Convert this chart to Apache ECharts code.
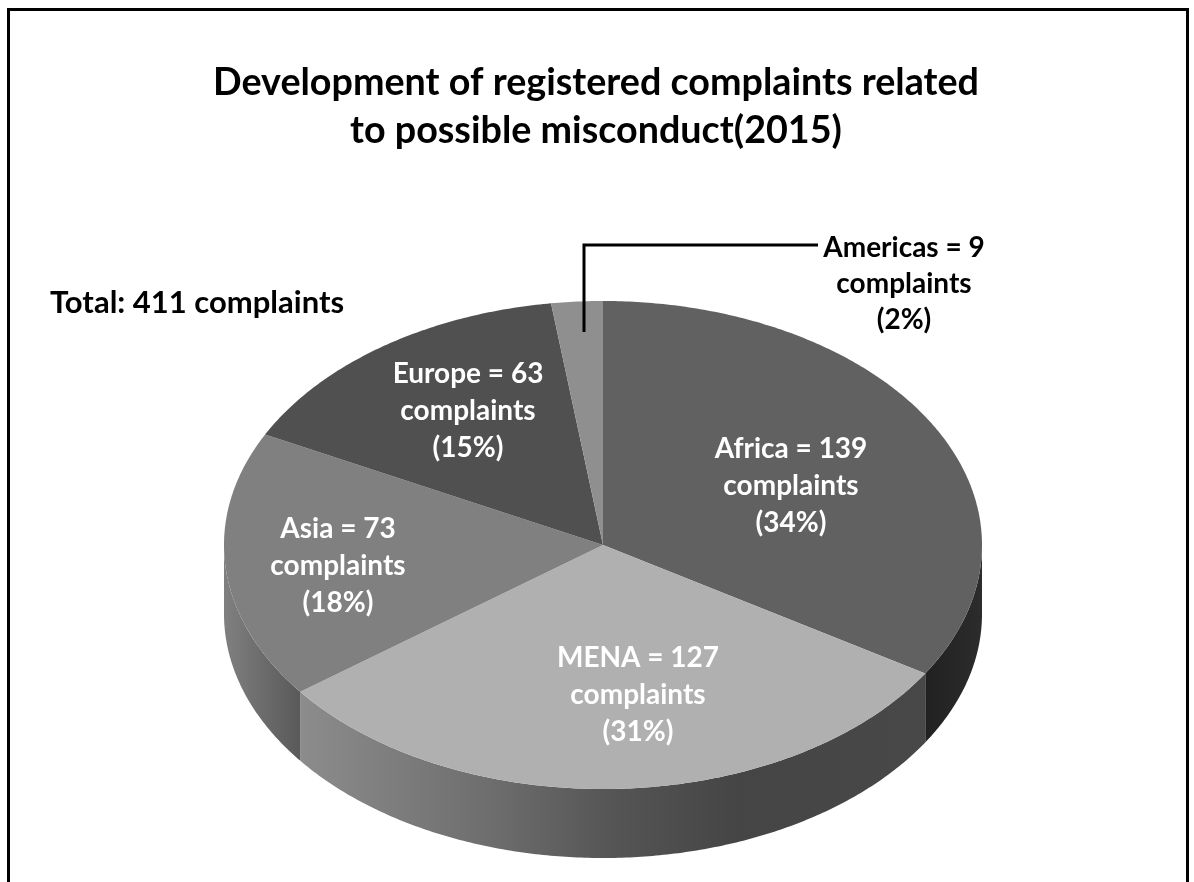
<!DOCTYPE html>
<html>
<head>
<meta charset="utf-8">
<style>html,body{margin:0;padding:0;background:#fff;overflow:hidden}#c{width:1194px;height:882px}</style>
<script src="https://cdn.jsdelivr.net/npm/echarts@6/dist/echarts.min.js"></script>
</head>
<body>
<div id="c"></div>
<script>
const regions = ['Africa', 'MENA', 'Asia', 'Europe', 'Americas'];
const complaints = [139, 127, 73, 63, 9];
const percents = [34, 31, 18, 15, 2];
const titleText = 'Development of registered complaints related\nto possible misconduct(2015)';
const totalText = 'Total: 411 complaints';

const FONT = 'Lato, "Open Sans", sans-serif';
const pie = { cx: 603, cy: 545, rx: 379, ry: 244, depth: 69 };
const topColors = ['#616161', '#b0b0b0', '#808080', '#505050', '#8f8f8f'];
const wallStops = [
  [[0, '#212121'], [1, '#2c2c2c']],
  [[0, '#8c8c8c'], [0.3, '#6e6e6e'], [0.5, '#555555'], [0.7, '#454545'], [1, '#484848']],
  [[0, '#808080'], [0.45, '#6e6e6e'], [1, '#595959']],
  [[0, '#333'], [1, '#333']],
  [[0, '#555'], [1, '#555']]
];
const labelAnchors = [[791, 486], [638, 695], [338, 566], [468, 411], [904, 284]];
const labelColors = ['#fff', '#fff', '#fff', '#fff', '#000'];
const leader = [[584, 332], [584, 245], [818, 245]];

const total = complaints.reduce((a, b) => a + b, 0);
const startFrac = [];
complaints.reduce((acc, v, i) => { startFrac[i] = acc / total; return acc + v; }, 0);

function pt(theta, dy) {
  return [pie.cx + pie.rx * Math.sin(theta), pie.cy - pie.ry * Math.cos(theta) + (dy || 0)];
}
function arc(a, b, dy) {
  const n = Math.max(2, Math.ceil(Math.abs(b - a) / 0.01));
  const out = [];
  for (let i = 0; i <= n; i++) out.push(pt(a + (b - a) * i / n, dy));
  return out;
}

function renderItem(params, api) {
  const i = params.dataIndex;
  const v = api.value(0);
  const a = startFrac[i] * 2 * Math.PI;
  const b = a + v / total * 2 * Math.PI;
  const children = [];
  const wa = Math.max(a, Math.PI / 2), wb = Math.min(b, Math.PI * 1.5);
  if (wb > wa) {
    const pts = arc(wa, wb, 0).concat(arc(wb, wa, pie.depth));
    const stops = wallStops[i].map(s => ({ offset: s[0], color: s[1] }));
    children.push({
      type: 'polygon', z2: 1, shape: { points: pts },
      style: { fill: new echarts.graphic.LinearGradient(0, 0, 1, 0, stops), stroke: null }
    });
  }
  children.push({
    type: 'polygon', z2: 2,
    shape: { points: [[pie.cx, pie.cy]].concat(arc(a, b, 0)) },
    style: { fill: topColors[i], stroke: null }
  });
  if (i === regions.length - 1) {
    children.push({
      type: 'polyline', z2: 3, shape: { points: leader },
      style: { stroke: '#000', lineWidth: 3, fill: null }
    });
  }
  children.push({
    type: 'text', z2: 4,
    style: {
      text: regions[i] + ' = ' + v + '\ncomplaints\n(' + percents[i] + '%)',
      x: labelAnchors[i][0], y: labelAnchors[i][1],
      align: 'center', verticalAlign: 'middle',
      fill: labelColors[i], fontFamily: FONT, fontWeight: 'bold',
      fontSize: 28, lineHeight: i === 4 ? 36 : 37
    }
  });
  return { type: 'group', children };
}

const chart = echarts.init(document.getElementById('c'), null, { renderer: 'canvas' });
chart.setOption({
  animation: false,
  backgroundColor: '#ffffff',
  title: {
    text: titleText, left: 591, top: 54, textAlign: 'center',
    textStyle: { fontFamily: FONT, fontWeight: 'bold', fontSize: 37.7, lineHeight: 48, color: '#000' }
  },
  graphic: [
    { type: 'polyline', shape: { points: [[8.5, 882], [8.5, 9.5], [1187.5, 9.5], [1187.5, 882]] },
      style: { stroke: '#000', lineWidth: 3, fill: null } },
    { type: 'text', style: { text: totalText, x: 50, y: 303, verticalAlign: 'middle',
      fill: '#000', fontFamily: FONT, fontWeight: 'bold', fontSize: 31 } }
  ],
  series: [{
    type: 'custom', coordinateSystem: 'none', silent: true,
    renderItem,
    data: complaints.map((v, i) => ({ name: regions[i], value: [v] }))
  }]
});
</script>
</body>
</html>
